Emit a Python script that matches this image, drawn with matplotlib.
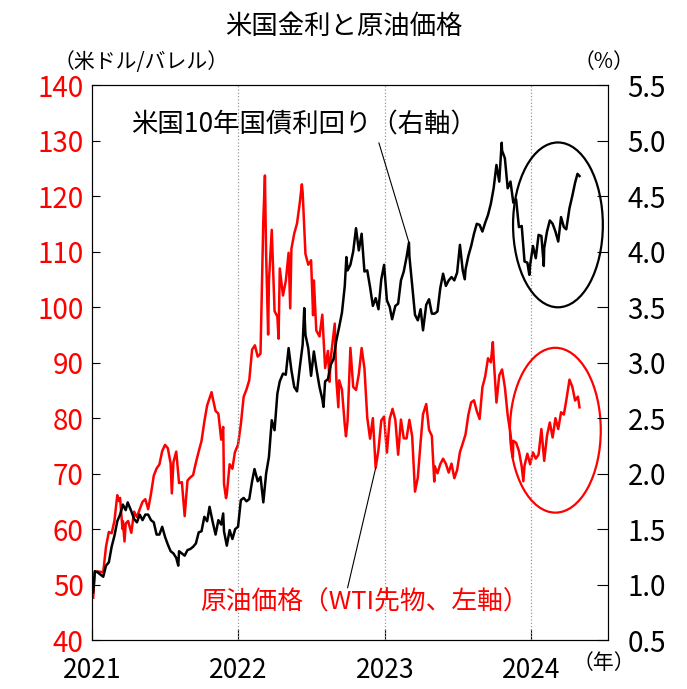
import numpy as np
import pandas as pd
import matplotlib
matplotlib.use('Agg')
import matplotlib.pyplot as plt
import matplotlib.dates as mdates
from matplotlib.patches import Ellipse
from matplotlib.ticker import FormatStrFormatter

plt.rcParams['font.family'] = ['Noto Sans CJK JP', 'DejaVu Sans']

# WTI先物 (米ドル/バレル)
oil_dates = [
    "2021-01-04", "2021-01-08", "2021-01-15", "2021-01-22", "2021-01-29", "2021-02-05", "2021-02-12",
    "2021-02-19", "2021-02-26", "2021-03-05", "2021-03-08", "2021-03-12", "2021-03-18", "2021-03-19",
    "2021-03-23", "2021-03-26", "2021-04-01", "2021-04-09", "2021-04-16", "2021-04-23", "2021-04-30",
    "2021-05-07", "2021-05-14", "2021-05-21", "2021-05-28", "2021-06-04", "2021-06-11", "2021-06-18",
    "2021-06-25", "2021-07-02", "2021-07-09", "2021-07-16", "2021-07-19", "2021-07-23", "2021-07-30",
    "2021-08-06", "2021-08-13", "2021-08-20", "2021-08-27", "2021-09-03", "2021-09-10", "2021-09-17",
    "2021-09-24", "2021-10-01", "2021-10-08", "2021-10-15", "2021-10-22", "2021-10-26", "2021-10-29",
    "2021-11-05", "2021-11-12", "2021-11-19", "2021-11-24", "2021-11-26", "2021-12-01", "2021-12-03",
    "2021-12-10", "2021-12-17", "2021-12-23", "2021-12-31",
    "2022-01-07", "2022-01-14", "2022-01-21", "2022-01-28", "2022-02-04", "2022-02-11", "2022-02-18",
    "2022-02-25", "2022-03-04", "2022-03-08", "2022-03-11", "2022-03-16", "2022-03-18", "2022-03-25",
    "2022-04-01", "2022-04-08", "2022-04-11", "2022-04-14", "2022-04-22", "2022-04-29", "2022-05-06",
    "2022-05-10", "2022-05-13", "2022-05-20", "2022-05-27", "2022-06-03", "2022-06-08", "2022-06-10",
    "2022-06-17", "2022-06-24", "2022-07-01", "2022-07-06", "2022-07-08", "2022-07-14", "2022-07-22",
    "2022-07-29", "2022-08-05", "2022-08-12", "2022-08-16", "2022-08-19", "2022-08-29", "2022-09-02",
    "2022-09-07", "2022-09-09", "2022-09-16", "2022-09-23", "2022-09-26", "2022-09-30", "2022-10-07",
    "2022-10-14", "2022-10-21", "2022-10-28", "2022-11-04", "2022-11-11", "2022-11-18", "2022-11-25",
    "2022-12-02", "2022-12-09", "2022-12-16", "2022-12-23", "2022-12-30",
    "2023-01-06", "2023-01-13", "2023-01-20", "2023-01-27", "2023-02-03", "2023-02-10", "2023-02-17",
    "2023-02-24", "2023-03-03", "2023-03-10", "2023-03-17", "2023-03-24", "2023-03-31", "2023-04-06",
    "2023-04-14", "2023-04-21", "2023-04-28", "2023-05-04", "2023-05-05", "2023-05-12", "2023-05-19",
    "2023-05-26", "2023-06-02", "2023-06-09", "2023-06-16", "2023-06-23", "2023-06-30", "2023-07-07",
    "2023-07-14", "2023-07-21", "2023-07-28", "2023-08-04", "2023-08-11", "2023-08-18", "2023-08-25",
    "2023-09-01", "2023-09-08", "2023-09-15", "2023-09-22", "2023-09-27", "2023-09-29", "2023-10-06",
    "2023-10-13", "2023-10-20", "2023-10-27", "2023-11-03", "2023-11-10", "2023-11-16", "2023-11-17",
    "2023-11-24", "2023-12-01", "2023-12-08", "2023-12-12", "2023-12-15", "2023-12-22", "2023-12-29",
    "2024-01-05", "2024-01-12", "2024-01-19", "2024-01-26", "2024-02-02", "2024-02-09", "2024-02-16",
    "2024-02-23", "2024-03-01", "2024-03-08", "2024-03-15", "2024-03-22", "2024-03-28", "2024-04-05",
    "2024-04-12", "2024-04-19", "2024-04-26", "2024-04-30",
]
oil_prices = [
    47.62, 52.24, 52.36, 52.27, 52.20, 56.85, 59.47,
    59.24, 61.50, 66.09, 65.05, 65.61, 60.00, 61.42,
    57.76, 60.97, 61.45, 59.32, 63.13, 62.14, 63.58,
    64.90, 65.37, 63.58, 66.32, 69.62, 70.91, 71.64,
    74.05, 75.16, 74.56, 71.81, 66.42, 72.07, 73.95,
    68.28, 68.44, 62.32, 68.74, 69.29, 69.72, 71.97,
    73.98, 75.88, 79.35, 82.28, 83.76, 84.65, 83.57,
    81.27, 80.79, 76.10, 78.39, 68.15, 65.57, 66.26,
    71.67, 70.86, 73.79, 75.21,
    78.90, 83.82, 85.14, 86.82, 92.31, 93.10, 91.07,
    91.59, 115.68, 123.70, 109.33, 95.04, 104.70, 113.90,
    99.27, 98.26, 94.29, 106.95, 102.07, 104.69, 109.77,
    99.76, 110.49, 113.23, 115.07, 118.87, 122.11, 120.67,
    109.56, 107.62, 108.43, 98.53, 104.79, 95.78, 94.70,
    98.62, 89.01, 92.09, 86.53, 90.77, 97.01, 86.87,
    81.94, 86.79, 85.11, 78.74, 76.71, 79.49, 92.64,
    85.61, 85.05, 87.90, 92.61, 88.96, 80.08, 76.28,
    79.98, 71.02, 74.29, 79.56, 80.26,
    73.77, 79.86, 81.64, 79.68, 73.39, 79.72, 76.34,
    76.32, 79.68, 76.68, 66.74, 69.26, 75.67, 80.70,
    82.52, 77.87, 76.78, 68.56, 71.34, 70.04, 71.69,
    72.67, 71.74, 70.17, 71.78, 69.16, 70.64, 73.86,
    75.42, 77.07, 80.58, 82.82, 83.19, 81.25, 79.83,
    85.55, 87.51, 90.77, 90.03, 93.68, 90.79, 82.79,
    87.69, 88.75, 85.54, 80.51, 77.17, 72.90, 75.89,
    75.54, 74.07, 71.23, 68.61, 71.43, 73.56, 71.65,
    73.81, 72.68, 73.41, 78.01, 72.28, 76.84, 79.19,
    76.49, 79.97, 78.01, 81.04, 80.63, 83.17, 86.91,
    85.66, 83.14, 83.85, 81.93,
]

# 米国10年国債利回り (%)
yield_dates = [
    "2021-01-04", "2021-01-08", "2021-01-15", "2021-01-22", "2021-01-29", "2021-02-05", "2021-02-12",
    "2021-02-19", "2021-02-26", "2021-03-05", "2021-03-12", "2021-03-19", "2021-03-26", "2021-03-31",
    "2021-04-09", "2021-04-16", "2021-04-23", "2021-04-30", "2021-05-07", "2021-05-14", "2021-05-21",
    "2021-05-28", "2021-06-04", "2021-06-11", "2021-06-18", "2021-06-25", "2021-07-02", "2021-07-09",
    "2021-07-16", "2021-07-23", "2021-07-30", "2021-08-04", "2021-08-06", "2021-08-13", "2021-08-20",
    "2021-08-27", "2021-09-03", "2021-09-10", "2021-09-17", "2021-09-24", "2021-10-01", "2021-10-08",
    "2021-10-15", "2021-10-21", "2021-10-29", "2021-11-05", "2021-11-12", "2021-11-19", "2021-11-24",
    "2021-11-26", "2021-12-03", "2021-12-10", "2021-12-17", "2021-12-24", "2021-12-31",
    "2022-01-07", "2022-01-14", "2022-01-21", "2022-01-28", "2022-02-04", "2022-02-10", "2022-02-18",
    "2022-02-25", "2022-03-04", "2022-03-11", "2022-03-18", "2022-03-25", "2022-04-01", "2022-04-08",
    "2022-04-14", "2022-04-22", "2022-04-29", "2022-05-06", "2022-05-13", "2022-05-20", "2022-05-27",
    "2022-06-03", "2022-06-10", "2022-06-14", "2022-06-17", "2022-06-24", "2022-07-01", "2022-07-08",
    "2022-07-15", "2022-07-22", "2022-07-29", "2022-08-01", "2022-08-05", "2022-08-12", "2022-08-19",
    "2022-08-26", "2022-09-02", "2022-09-09", "2022-09-16", "2022-09-23", "2022-09-27", "2022-09-30",
    "2022-10-07", "2022-10-14", "2022-10-21", "2022-10-28", "2022-11-04", "2022-11-11", "2022-11-18",
    "2022-11-25", "2022-12-02", "2022-12-09", "2022-12-16", "2022-12-23", "2022-12-30",
    "2023-01-06", "2023-01-13", "2023-01-19", "2023-01-27", "2023-02-03", "2023-02-10", "2023-02-17",
    "2023-02-24", "2023-03-02", "2023-03-03", "2023-03-10", "2023-03-17", "2023-03-24", "2023-03-31",
    "2023-04-06", "2023-04-14", "2023-04-21", "2023-04-28", "2023-05-05", "2023-05-12", "2023-05-19",
    "2023-05-26", "2023-06-02", "2023-06-09", "2023-06-16", "2023-06-23", "2023-06-30", "2023-07-07",
    "2023-07-14", "2023-07-19", "2023-07-21", "2023-07-28", "2023-08-04", "2023-08-11", "2023-08-18",
    "2023-08-25", "2023-09-01", "2023-09-08", "2023-09-15", "2023-09-22", "2023-09-29", "2023-10-06",
    "2023-10-13", "2023-10-19", "2023-10-20", "2023-10-27", "2023-11-03", "2023-11-10", "2023-11-17",
    "2023-11-24", "2023-12-01", "2023-12-08", "2023-12-15", "2023-12-22", "2023-12-27", "2023-12-29",
    "2024-01-05", "2024-01-12", "2024-01-19", "2024-01-26", "2024-02-01", "2024-02-02", "2024-02-09",
    "2024-02-16", "2024-02-23", "2024-03-01", "2024-03-08", "2024-03-15", "2024-03-22", "2024-03-28",
    "2024-04-05", "2024-04-12", "2024-04-19", "2024-04-25", "2024-04-30",
]
yield_values = [
    0.93, 1.12, 1.11, 1.09, 1.07, 1.17, 1.20,
    1.34, 1.44, 1.57, 1.63, 1.72, 1.67, 1.74,
    1.66, 1.59, 1.56, 1.63, 1.58, 1.63, 1.63,
    1.58, 1.56, 1.45, 1.45, 1.52, 1.43, 1.36,
    1.30, 1.28, 1.24, 1.17, 1.30, 1.28, 1.26,
    1.31, 1.32, 1.34, 1.37, 1.47, 1.48, 1.61,
    1.57, 1.70, 1.56, 1.45, 1.58, 1.54, 1.64,
    1.48, 1.35, 1.49, 1.41, 1.50, 1.52,
    1.76, 1.78, 1.75, 1.77, 1.93, 2.04, 1.93,
    1.97, 1.74, 2.00, 2.15, 2.48, 2.39, 2.72,
    2.83, 2.90, 2.89, 3.13, 2.93, 2.78, 2.74,
    2.96, 3.16, 3.49, 3.25, 3.13, 2.88, 3.10,
    2.93, 2.78, 2.67, 2.60, 2.83, 2.85, 2.98,
    3.03, 3.20, 3.32, 3.45, 3.69, 3.95, 3.83,
    3.88, 4.00, 4.21, 4.01, 4.16, 3.82, 3.83,
    3.68, 3.51, 3.58, 3.48, 3.75, 3.88,
    3.56, 3.50, 3.39, 3.51, 3.53, 3.74, 3.82,
    3.95, 4.08, 3.96, 3.70, 3.43, 3.38, 3.48,
    3.29, 3.52, 3.57, 3.44, 3.44, 3.46, 3.67,
    3.80, 3.69, 3.74, 3.77, 3.74, 3.81, 4.06,
    3.83, 3.75, 3.84, 3.96, 4.05, 4.16, 4.25,
    4.24, 4.18, 4.26, 4.33, 4.43, 4.57, 4.78,
    4.63, 4.98, 4.91, 4.84, 4.57, 4.63, 4.44,
    4.47, 4.22, 4.23, 3.91, 3.90, 3.79, 3.88,
    4.05, 3.94, 4.15, 4.14, 3.87, 4.03, 4.18,
    4.28, 4.25, 4.18, 4.09, 4.31, 4.22, 4.20,
    4.39, 4.50, 4.62, 4.70, 4.68,
]

year_labels = ["2021", "2022", "2023", "2024"]

oil = pd.Series(oil_prices, index=pd.to_datetime(oil_dates))
ust = pd.Series(yield_values, index=pd.to_datetime(yield_dates))
years = pd.to_datetime([y + "-01-01" for y in year_labels])


def dnum(s):
    return mdates.date2num(pd.Timestamp(s))


fig = plt.figure(figsize=(6.87, 6.89), dpi=100)
ax = fig.add_axes([0.1339, 0.0711, 0.7511, 0.8055])
ax2 = ax.twinx()

ax.plot(oil.index, oil.values, color='#ff0000', lw=1.8)
ax2.plot(ust.index, ust.values, color='black', lw=1.8)

ax.set_xlim(pd.Timestamp("2021-01-01"), pd.Timestamp("2024-07-10"))
ax.set_ylim(40, 140)
ax.set_yticks(np.arange(40, 141, 10))
ax2.set_ylim(0.5, 5.5)
ax2.set_yticks(np.arange(0.5, 5.51, 0.5))
ax2.yaxis.set_major_formatter(FormatStrFormatter('%.1f'))
ax.set_xticks(years)
ax.set_xticklabels(year_labels)

for yr in years[1:]:
    ax.axvline(yr, color='#999999', ls=':', lw=0.9)

ax.tick_params(axis='y', direction='in', length=6, labelcolor='#ff0000', labelsize=20, pad=6)
ax2.tick_params(axis='y', direction='in', length=8, labelsize=20, pad=14)
ax.tick_params(axis='x', direction='in', length=8, labelsize=19, pad=12)

# 注記
ax2.text(0.41, 0.928, "米国10年国債利回り（右軸）", transform=ax2.transAxes,
         ha='center', va='center', fontsize=19, color='black')
ax2.annotate("", xy=(dnum("2023-03-02"), 4.08), xytext=(dnum("2022-12-17"), 4.98),
             arrowprops=dict(arrowstyle='-', color='black', lw=0.8, shrinkA=0, shrinkB=0))
ax2.text(0.527, 0.067, "原油価格（WTI先物、左軸）", transform=ax2.transAxes,
         ha='center', va='center', fontsize=18.5, color='#ff0000')
ax.annotate("", xy=(dnum("2022-12-09"), 71.0), xytext=(dnum("2022-09-30"), 49.4),
            arrowprops=dict(arrowstyle='-', color='black', lw=0.8, shrinkA=0, shrinkB=0))

ax2.add_patch(Ellipse((0.903, 0.748), 0.174, 0.297, transform=ax2.transAxes,
                      fill=False, edgecolor='black', lw=1.6))
ax2.add_patch(Ellipse((0.898, 0.378), 0.176, 0.297, transform=ax2.transAxes,
                      fill=False, edgecolor='#ff0000', lw=1.6))

fig.text(0.5, 0.961, "米国金利と原油価格", ha='center', va='center', fontsize=19)
fig.text(0.205, 0.91, "（米ドル/バレル）", ha='center', va='center', fontsize=15)
fig.text(0.879, 0.91, "（%）", ha='center', va='center', fontsize=15)
fig.text(0.879, 0.038, "（年）", ha='center', va='center', fontsize=15)

fig.savefig("out.png", dpi=100)
